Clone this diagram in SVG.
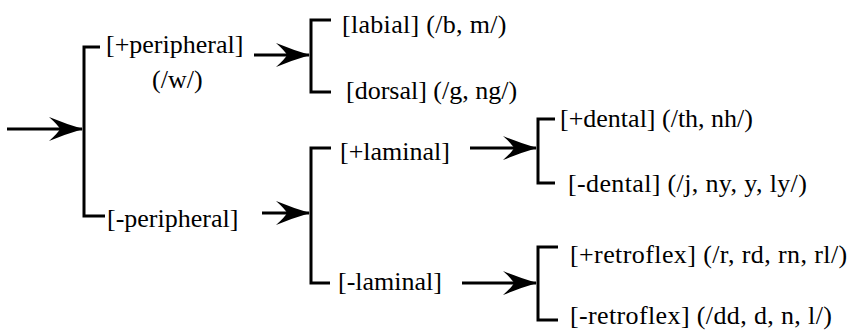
<svg xmlns="http://www.w3.org/2000/svg" width="851" height="330" viewBox="0 0 851 330">
<style>
  .br { fill: none; stroke: #000; stroke-width: 3; stroke-linejoin: miter; stroke-linecap: butt; }
  .ar { stroke: #000; stroke-width: 3; marker-end: url(#ah); }
</style>
<defs>
  <marker id="ah" markerUnits="userSpaceOnUse" markerWidth="44" markerHeight="32" viewBox="-38 -16 44 32" refX="0" refY="0" orient="auto">
    <path d="M1,0 Q-16,-5 -33,-12 Q-24,-4 -22,0 Q-24,4 -33,12 Q-16,5 1,0 Z" fill="#000"/>
  </marker>
</defs>
<rect width="851" height="330" fill="#fff"/>
<g id="connectors">
  <line class="ar" x1="7" y1="129" x2="82" y2="129"/>
  <line class="ar" x1="254" y1="55" x2="309" y2="55"/>
  <line class="ar" x1="262" y1="213" x2="309" y2="213"/>
  <line class="ar" x1="470" y1="148" x2="536" y2="148"/>
  <line class="ar" x1="462" y1="283" x2="536" y2="283"/>
</g>
<g id="root">
  <path class="br" d="M100,47 H84 V216 H105"/>
</g>
<g id="plus-peripheral">
  <text x="106" y="53" style="font-family: 'Liberation Serif', serif; font-size: 26px">[+peripheral]</text>
  <text x="152" y="88" style="font-family: 'Liberation Serif', serif; font-size: 26px">(/w/)</text>
</g>
<g id="minus-peripheral">
  <text x="107" y="227" style="font-family: 'Liberation Serif', serif; font-size: 26px">[-peripheral]</text>
</g>
<g id="peripheral-split">
  <path class="br" d="M331,20 H311 V92 H331"/>
</g>
<g id="labial">
  <text x="342" y="33" style="font-family: 'Liberation Serif', serif; font-size: 26px; letter-spacing: 0.3px">[labial] (/b, m/)</text>
</g>
<g id="dorsal">
  <text x="346" y="99" style="font-family: 'Liberation Serif', serif; font-size: 26px">[dorsal] (/g, ng/)</text>
</g>
<g id="laminal-split">
  <path class="br" d="M331,148 H311 V283 H330"/>
</g>
<g id="plus-laminal">
  <text x="340" y="160" style="font-family: 'Liberation Serif', serif; font-size: 26px">[+laminal]</text>
</g>
<g id="minus-laminal">
  <text x="338" y="290" style="font-family: 'Liberation Serif', serif; font-size: 26px">[-laminal]</text>
</g>
<g id="dental-split">
  <path class="br" d="M555,119 H538 V183 H555"/>
</g>
<g id="plus-dental">
  <text x="560" y="127" style="font-family: 'Liberation Serif', serif; font-size: 26px">[+dental] (/th, nh/)</text>
</g>
<g id="minus-dental">
  <text x="568" y="192" style="font-family: 'Liberation Serif', serif; font-size: 26px; letter-spacing: 0.36px">[-dental] (/j, ny, y, ly/)</text>
</g>
<g id="retroflex-split">
  <path class="br" d="M558,247 H538 V320 H558"/>
</g>
<g id="plus-retroflex">
  <text x="570" y="263" style="font-family: 'Liberation Serif', serif; font-size: 26px; letter-spacing: 0.4px">[+retroflex] (/r, rd, rn, rl/)</text>
</g>
<g id="minus-retroflex">
  <text x="570" y="324" style="font-family: 'Liberation Serif', serif; font-size: 26px; letter-spacing: 0.37px">[-retroflex] (/dd, d, n, l/)</text>
</g>
</svg>
